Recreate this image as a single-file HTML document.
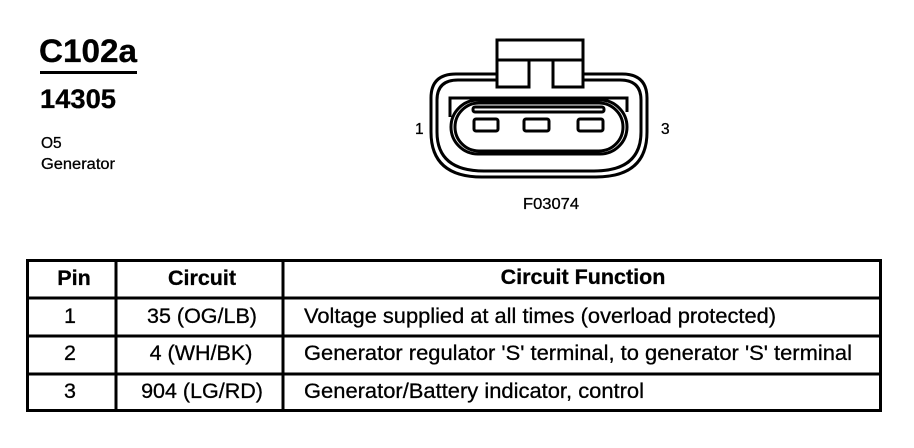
<!DOCTYPE html>
<html>
<head>
<meta charset="utf-8">
<style>
html,body{margin:0;padding:0;background:#fff;width:914px;height:448px;overflow:hidden}
svg{display:block}
text{font-family:"Liberation Sans",sans-serif;fill:#000;stroke:#000;stroke-width:0.3px}
.b{font-weight:bold}
.c{text-anchor:middle}
</style>
</head>
<body>
<svg width="914" height="448" viewBox="0 0 914 448" xmlns="http://www.w3.org/2000/svg">
<text x="39" y="62" class="b" font-size="32" textLength="98" lengthAdjust="spacingAndGlyphs">C102a</text>
<rect x="40" y="71" width="97" height="3" fill="#000"/>
<text x="40" y="108" class="b" font-size="27" textLength="76" lengthAdjust="spacingAndGlyphs">14305</text>
<text x="41" y="148" font-size="15.5">O5</text>
<text x="41" y="169" font-size="15.5" textLength="74" lengthAdjust="spacingAndGlyphs">Generator</text>

<g fill="none" stroke="#000" stroke-width="3">
<path d="M496 74H456Q431 74 431 98V132Q431 177 482 177H596Q647 177 647 132V98Q647 74 622 74H583"/>
<path d="M496 80H458Q437 80 437 100V132Q437 171 484 171H594Q641 171 641 132V100Q641 80 620 80H583"/>
<rect x="497" y="40" width="86" height="20"/>
<path d="M497 60V87H529V60"/>
<path d="M553 60V87H583V60"/>
<path d="M450 117V98H627V112"/>
<rect x="451" y="100" width="176" height="54" rx="27" ry="27"/>
<rect x="455" y="103" width="168" height="48" rx="24" ry="24"/>
<rect x="473" y="107" width="131" height="5" rx="2" ry="2"/>
<rect x="474" y="119" width="24" height="12" rx="2" ry="2"/>
<rect x="524" y="119" width="25" height="12" rx="2" ry="2"/>
<rect x="578" y="119" width="25" height="12" rx="2" ry="2"/>
</g>
<text x="415" y="134" font-size="15.5">1</text>
<text x="661" y="134" font-size="15.5">3</text>
<text x="523" y="209" font-size="16" textLength="56" lengthAdjust="spacingAndGlyphs">F03074</text>

<g fill="none" stroke="#000" stroke-width="3">
<rect x="27.5" y="260.5" width="853" height="150"/>
<path d="M116 260V411M283 260V411"/>
<path d="M27 298H881M27 336H881M27 374H881"/>
</g>
<g font-size="21.5">
<text x="74" y="285" class="b c">Pin</text>
<text x="202" y="285" class="b c">Circuit</text>
<text x="583" y="284" class="b c">Circuit Function</text>
<text x="70" y="323" class="c">1</text>
<text x="202" y="323" class="c">35 (OG/LB)</text>
<text x="304" y="323" textLength="472" lengthAdjust="spacingAndGlyphs">Voltage supplied at all times (overload protected)</text>
<text x="70" y="360" class="c">2</text>
<text x="201" y="360" class="c">4 (WH/BK)</text>
<text x="304" y="360" textLength="548" lengthAdjust="spacingAndGlyphs">Generator regulator 'S' terminal, to generator 'S' terminal</text>
<text x="70" y="398" class="c">3</text>
<text x="202" y="398" class="c">904 (LG/RD)</text>
<text x="304" y="398" textLength="340" lengthAdjust="spacingAndGlyphs">Generator/Battery indicator, control</text>
</g>
</svg>
</body>
</html>
